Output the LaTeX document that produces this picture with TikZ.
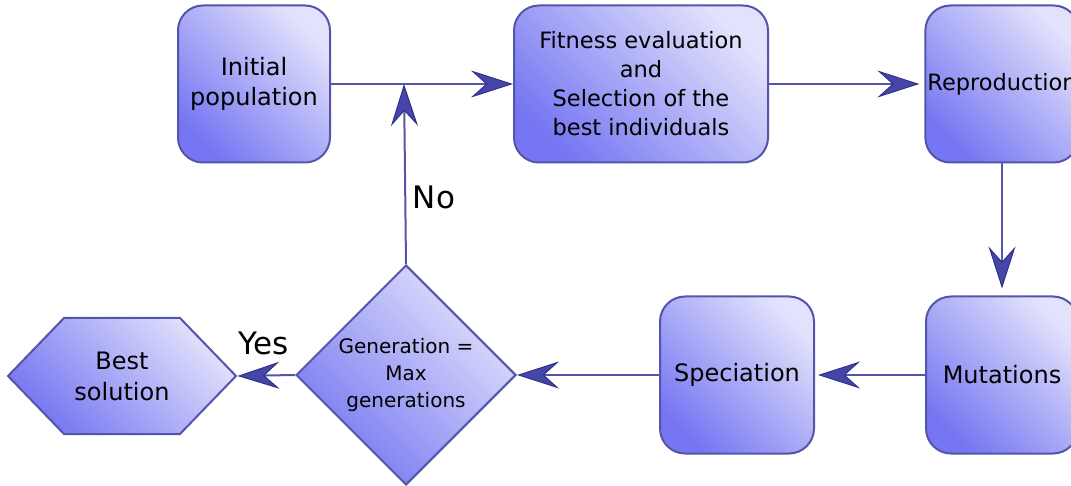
\documentclass[tikz,border=0pt]{standalone}
\usepackage{fontspec}
\setmainfont{DejaVu Sans}
\usetikzlibrary{arrows.meta,shapes.geometric,shapes.symbols}

\definecolor{shadeDark}{RGB}{118,118,242}
\definecolor{shadeLight}{RGB}{226,226,252}
\definecolor{edge}{RGB}{84,84,170}
\definecolor{tipfill}{RGB}{70,70,168}
\definecolor{tipline}{RGB}{48,48,140}

\tikzset{
  filled/.style={draw=edge, line width=2pt, top color=shadeLight, bottom color=shadeDark,
    shading angle=-45, align=center, text=black},
  box/.style={filled, rounded corners=25pt, minimum width=152pt, minimum height=157pt,
    inner sep=2pt, font=\fontsize{24}{30}\selectfont},
  decision/.style={filled, shape=diamond, aspect=1, inner sep=0pt,
    minimum width=220pt, minimum height=220pt, font=\fontsize{20}{27}\selectfont},
  terminal/.style={filled, shape=signal, signal to=west and east, signal pointer angle=92,
    inner sep=0pt, minimum width=228pt, minimum height=116pt, font=\fontsize{24}{31}\selectfont},
  flow/.style={draw=edge, line width=2pt,
    -{Stealth[length=42pt, width=27pt, inset=15pt, color=tipline, fill=tipfill, line width=1pt]}},
  answer/.style={font=\fontsize{31}{36}\selectfont}
}

\begin{document}
\begin{tikzpicture}[x=1pt, y=-1pt]
  \useasboundingbox (0,0) rectangle (1071,486);
  \clip (0,0) rectangle (1071,486);

  % process steps
  \node[box] (init) at (254,84) {Initial\\population};
  \node[box, minimum width=254pt, font=\fontsize{22.5}{29}\selectfont] (fit) at (641,84)
    {Fitness evaluation\\and\\Selection of the\\best individuals};
  \node[box, font=\fontsize{22.5}{28}\selectfont] (repro) at (1002,84) {Reproduction};
  \node[box] (mut) at (1002,375) {Mutations};
  \node[box, minimum width=154pt] (spec) at (737,375) {Speciation};

  % stop test and result
  \node[decision] (gen) at (406,375) {Generation =\\Max\\generations};
  \node[terminal] (best) at (122,376) {Best\\solution};

  % where the loop rejoins the main line
  \coordinate (join) at (404,84);

  % connectors
  \draw[flow] (init.east) -- (fit.west);
  \draw[flow, shorten >=5pt] (fit.east) -- (repro.west);
  \draw[flow, shorten >=7pt] (repro.south) -- (mut.north);
  \draw[flow, shorten >=3pt] (mut.west) -- (spec.east);
  \draw[flow] (spec.west) -- (gen.east);
  \draw[flow] (gen.west) -- (best.east);
  \draw[flow] (gen.north) -- (join);

  % branch labels
  \node[answer] (no) at (434,197) {No};
  \node[answer] (yes) at (264,343) {Yes};
\end{tikzpicture}
\end{document}
